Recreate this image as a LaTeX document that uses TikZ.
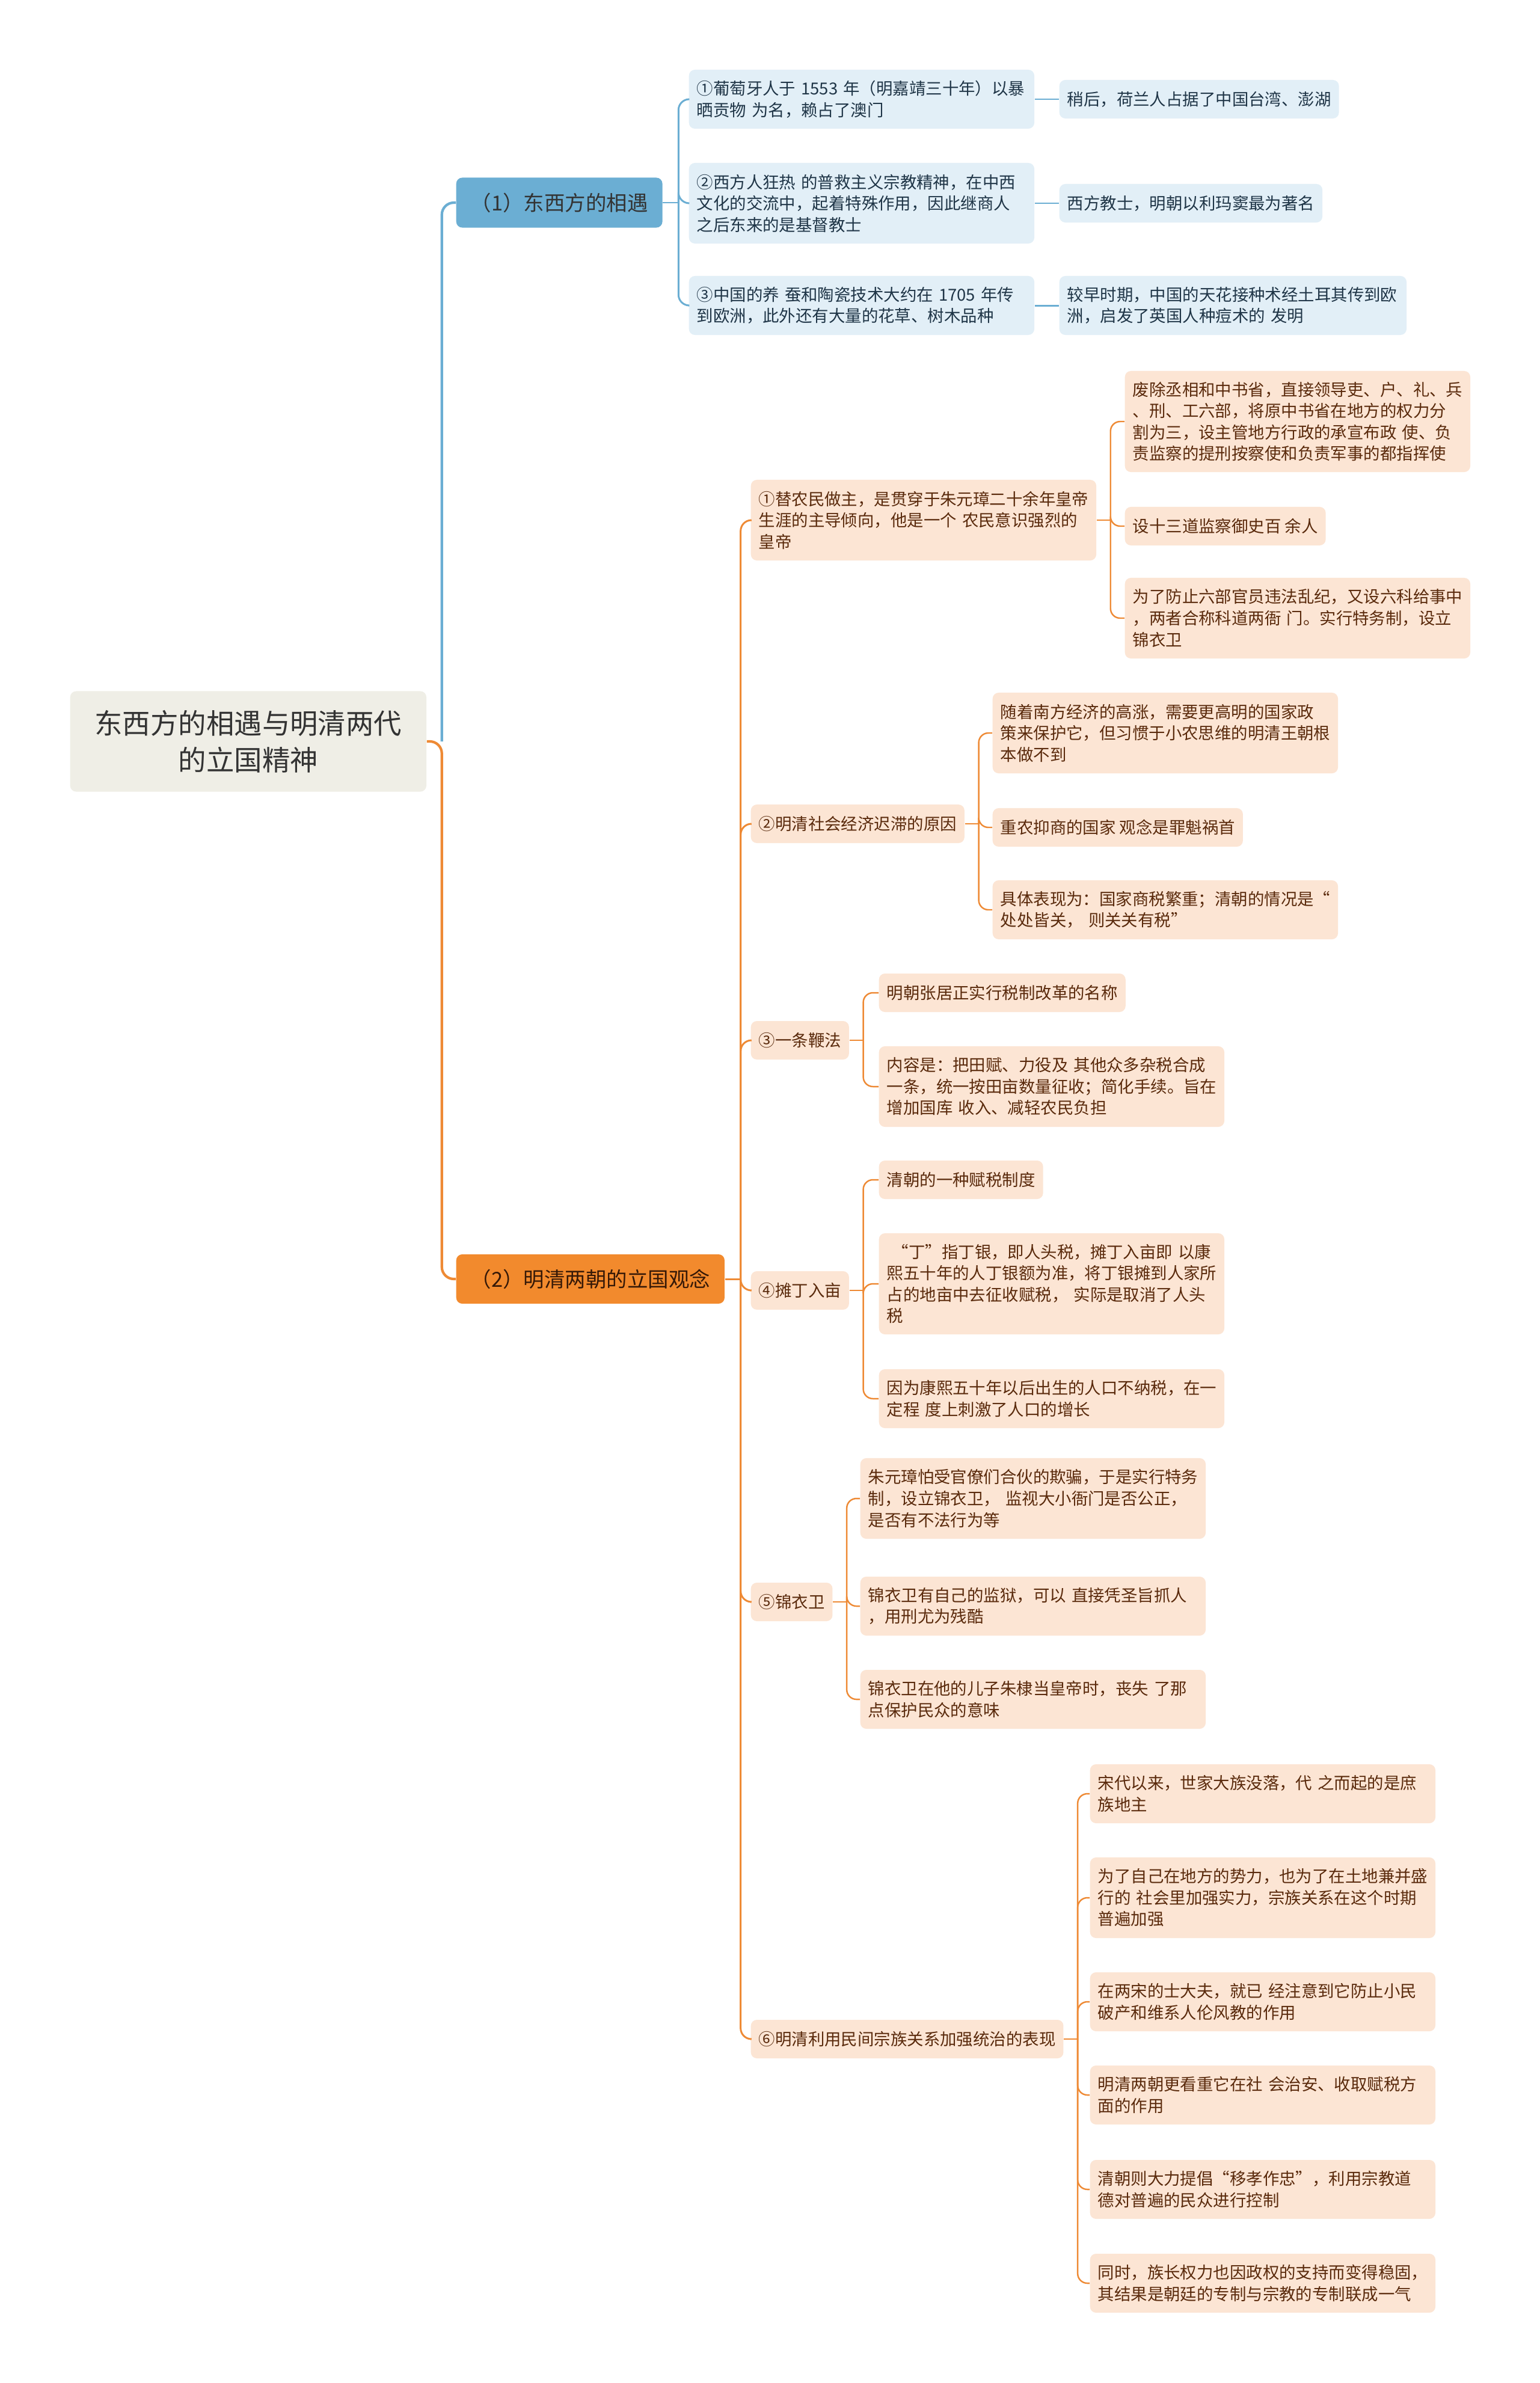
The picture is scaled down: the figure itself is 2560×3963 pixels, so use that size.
\documentclass[tikz,border=0pt]{standalone}
\usepackage{fontspec}
\newfontfamily\cjk{Noto Sans CJK SC}
\usetikzlibrary{calc}
\definecolor{rootfill}{HTML}{EFEEE6}
\definecolor{roottext}{HTML}{333333}
\definecolor{bluemain}{HTML}{6BAED3}
\definecolor{bluelight}{HTML}{E2EFF7}
\definecolor{bluetext}{HTML}{1F3547}
\definecolor{orgmain}{HTML}{F28A2D}
\definecolor{orglight}{HTML}{FCE5D4}
\definecolor{orgtext}{HTML}{5A2A0C}
\definecolor{orgline}{HTML}{EE8A35}
\tikzset{
  box/.style={rounded corners=0.1cm, inner xsep=0.13cm, inner ysep=0.05cm, anchor=west},
  rootbox/.style={box, fill=rootfill, text=roottext, align=center,
                  font=\cjk\fontsize{13.2}{17.5}\selectfont, minimum width=5.92cm, minimum height=1.67cm},
  brb/.style={box, fill=bluemain, text=black!80, inner xsep=0.24cm,
              font=\cjk\fontsize{9.8}{12}\selectfont, minimum height=0.83cm},
  bro/.style={box, fill=orgmain, text=orgtext!60!black, inner xsep=0.24cm,
              font=\cjk\fontsize{9.8}{12}\selectfont, minimum height=0.82cm},
  leafb/.style={box, fill=bluelight, text=bluetext, align=left, font=\cjk\fontsize{7.8}{10.1}\selectfont},
  leafo/.style={box, fill=orglight, text=orgtext, align=left, font=\cjk\fontsize{7.8}{10.1}\selectfont},
  ln1/.style={minimum height=0.64cm},
  ln2/.style={minimum height=0.98cm},
  ln3/.style={minimum height=1.34cm},
  ln4/.style={minimum height=1.68cm},
  wide/.style={text width=5.48cm},
  lnkmain/.style={line width=1.2pt, rounded corners=0.2cm},
  lnk/.style={line width=0.85pt, rounded corners=0.18cm},
  lnksub/.style={line width=0.7pt, rounded corners=0.16cm, orgline},
}
\begin{document}
\begin{tikzpicture}[x=0.01cm, y=-0.01cm]
  \fill[white] (0,0) rectangle (2560,3963);
  \useasboundingbox (0,0) rectangle (2560,3963);

  \node[rootbox] (root) at (116,1233) {东西方的相遇与明清两代\\的立国精神};
  \node[brb, minimum width=3.36cm] (br1) at (758,337) {（1）东西方的相遇};
  \node[bro, minimum width=4.40cm] (br2) at (758,2127) {（2）明清两朝的立国观念};

  % east meets west
  \node[leafb, wide, ln2] (b1) at (1145,165) {①葡萄牙人于~1553~年（明嘉靖三十年）以暴\\晒贡物~为名，赖占了澳门};
  \node[leafb, wide, ln3] (b2) at (1145,338) {②西方人狂热~的普救主义宗教精神，在中西\\文化的交流中，起着特殊作用，因此继商人\\之后东来的是基督教士};
  \node[leafb, wide, ln2] (b3) at (1145,508) {③中国的养~蚕和陶瓷技术大约在~1705~年传\\到欧洲，此外还有大量的花草、树木品种};
  \node[leafb, ln1] (b1a) at (1761,165) {稍后，荷兰人占据了中国台湾、澎湖};
  \node[leafb, ln1] (b2a) at (1761,338) {西方教士，明朝以利玛窦最为著名};
  \node[leafb, text width=5.51cm, ln2] (b3a) at (1761,508) {较早时期，中国的天花接种术经土耳其传到欧\\洲，启发了英国人种痘术的~发明};

  % ming and qing
  \node[leafo, wide, ln3] (o1) at (1248,865) {①替农民做主，是贯穿于朱元璋二十余年皇帝\\生涯的主导倾向，他是一个~农民意识强烈的\\皇帝};
  \node[leafo, ln1] (o2) at (1248,1370) {②明清社会经济迟滞的原因};
  \node[leafo, ln1] (o3) at (1248,1730) {③一条鞭法};
  \node[leafo, ln1] (o4) at (1248,2146) {④摊丁入亩};
  \node[leafo, ln1] (o5) at (1248,2664) {⑤锦衣卫};
  \node[leafo, ln1] (o6) at (1248,3391) {⑥明清利用民间宗族关系加强统治的表现};

  \node[leafo, wide, ln4] (o1a) at (1870,701) {废除丞相和中书省，直接领导吏、户、礼、兵\\、刑、工六部，将原中书省在地方的权力分\\割为三，设主管地方行政的承宣布政~使、负\\责监察的提刑按察使和负责军事的都指挥使};
  \node[leafo, ln1] (o1b) at (1870,875) {设十三道监察御史百~余人};
  \node[leafo, wide, ln3] (o1c) at (1870,1028) {为了防止六部官员违法乱纪，又设六科给事中\\，两者合称科道两衙~门。实行特务制，设立\\锦衣卫};

  \node[leafo, wide, ln3] (o2a) at (1650,1219) {随着南方经济的高涨，需要更高明的国家政\\策来保护它，但习惯于小农思维的明清王朝根\\本做不到};
  \node[leafo, ln1] (o2b) at (1650,1376) {重农抑商的国家~观念是罪魁祸首};
  \node[leafo, wide, ln2] (o2c) at (1650,1513) {具体表现为：国家商税繁重；清朝的情况是“\\处处皆关，~则关关有税”};

  \node[leafo, ln1] (o3a) at (1461,1651) {明朝张居正实行税制改革的名称};
  \node[leafo, wide, ln3] (o3b) at (1461,1807) {内容是：把田赋、力役及~其他众多杂税合成\\一条，统一按田亩数量征收；简化手续。旨在\\增加国库~收入、减轻农民负担};

  \node[leafo, ln1] (o4a) at (1461,1962) {清朝的一种赋税制度};
  \node[leafo, wide, ln4] (o4b) at (1461,2135) {~“丁”指丁银，即人头税，摊丁入亩即~以康\\熙五十年的人丁银额为准，将丁银摊到人家所\\占的地亩中去征收赋税，~实际是取消了人头\\税};
  \node[leafo, wide, ln2] (o4c) at (1461,2326) {因为康熙五十年以后出生的人口不纳税，在一\\定程~度上刺激了人口的增长};

  \node[leafo, wide, ln3] (o5a) at (1430,2492) {朱元璋怕受官僚们合伙的欺骗，于是实行特务\\制，设立锦衣卫，~监视大小衙门是否公正，\\是否有不法行为等};
  \node[leafo, wide, ln2] (o5b) at (1430,2671) {锦衣卫有自己的监狱，可以~直接凭圣旨抓人\\，用刑尤为残酷};
  \node[leafo, wide, ln2] (o5c) at (1430,2826) {锦衣卫在他的儿子朱棣当皇帝时，丧失~了那\\点保护民众的意味};

  \node[leafo, wide, ln2] (o6a) at (1812,2983) {宋代以来，世家大族没落，代~之而起的是庶\\族地主};
  \node[leafo, wide, ln3] (o6b) at (1812,3156) {为了自己在地方的势力，也为了在土地兼并盛\\行的~社会里加强实力，宗族关系在这个时期\\普遍加强};
  \node[leafo, wide, ln2] (o6c) at (1812,3329) {在两宋的士大夫，就已~经注意到它防止小民\\破产和维系人伦风教的作用};
  \node[leafo, wide, ln2] (o6d) at (1812,3484) {明清两朝更看重它在社~会治安、收取赋税方\\面的作用};
  \node[leafo, wide, ln2] (o6e) at (1812,3641) {清朝则大力提倡“移孝作忠”，利用宗教道\\德对普遍的民众进行控制};
  \node[leafo, wide, ln2] (o6f) at (1812,3797) {同时，族长权力也因政权的支持而变得稳固，\\其结果是朝廷的专制与宗教的专制联成一气};

  % connectors
  \coordinate (mr) at ($(root.east)+(25,0)$);
  \draw[lnkmain, bluemain] (mr) |- (br1.west);
  \draw[lnkmain, orgline] (root.east) -- (mr) |- (br2.west);

  \draw[lnk, bluemain] (br1.east) -- ++(26,0) coordinate (mb);
  \foreach \c in {b1,b2,b3} \draw[lnk, bluemain] (mb) |- (\c.west);
  \foreach \p/\q in {b1/b1a,b2/b2a,b3/b3a} \draw[lnk, bluemain] (\p.east) -- (\q.west);

  \draw[lnk, orgline] (br2.east) -- ++(26,0) coordinate (mo);
  \foreach \c in {o1,o2,o3,o4,o5,o6} \draw[lnk, orgline] (mo) |- (\c.west);

  \foreach \p/\kids in {o1/{o1a,o1b,o1c}, o2/{o2a,o2b,o2c}, o3/{o3a,o3b},
                        o4/{o4a,o4b,o4c}, o5/{o5a,o5b,o5c}, o6/{o6a,o6b,o6c,o6d,o6e,o6f}}{
    \draw[lnksub] (\p.east) -- ++(23,0) coordinate (mk);
    \foreach \k in \kids \draw[lnksub] (mk) |- (\k.west);
  }
\end{tikzpicture}
\end{document}
